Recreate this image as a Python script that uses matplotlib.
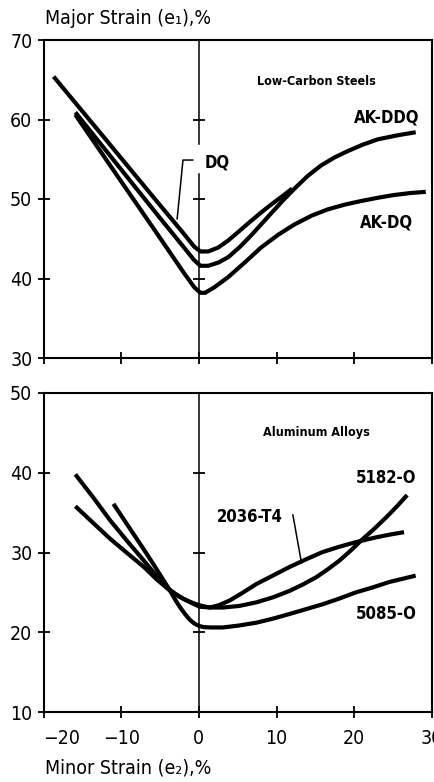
import numpy as np
import matplotlib.pyplot as plt

# low-carbon steels (top panel)
dq_x = [-18.7, -12.0, -6.0, -2.0, -0.6, 0.2, 1.2, 2.5, 3.8, 5.0, 6.3, 8.0, 9.3, 10.8, 12.0]
dq_y = [65.4, 57.5, 50.4, 45.7, 44.0, 43.4, 43.4, 43.9, 44.8, 45.8, 46.9, 48.3, 49.3, 50.4, 51.3]
ddq_x = [-15.9, -10.0, -5.0, -2.0, -0.6, 0.2, 1.2, 2.5, 3.8, 5.3, 6.8, 8.0, 9.3, 10.8, 12.3,
         14.0, 15.7, 17.4, 19.1, 21.0, 23.0, 25.5, 27.9]
ddq_y = [60.9, 53.7, 47.6, 44.0, 42.3, 41.6, 41.6, 42.0, 42.7, 44.0, 45.5, 46.8, 48.2, 49.8, 51.3,
         52.9, 54.2, 55.2, 56.0, 56.8, 57.5, 58.0, 58.4]
akdq_x = [-15.9, -10.0, -5.0, -2.0, -0.6, 0.2, 0.8, 2.0, 3.8, 6.0, 8.0, 10.2, 12.3, 14.5, 16.6,
          18.8, 20.9, 23.0, 25.1, 27.2, 29.2]
akdq_y = [60.6, 52.2, 45.1, 40.8, 38.9, 38.2, 38.2, 38.9, 40.2, 42.1, 43.9, 45.5, 46.8, 47.9, 48.7,
          49.3, 49.75, 50.15, 50.5, 50.75, 50.9]

# aluminum alloys (bottom panel)
a5182_x = [-15.9, -13.6, -11.4, -9.2, -7.1, -5.5, -4.1, -3.0, -2.0, -1.0, 0.1, 1.5, 3.1, 5.2, 7.4,
           9.6, 11.7, 13.4, 15.1, 16.6, 18.1, 19.6, 21.1, 22.6, 24.1, 25.5, 26.8]
a5182_y = [39.8, 36.9, 34.0, 31.4, 29.0, 27.1, 25.6, 24.8, 24.2, 23.7, 23.2, 23.1, 23.1, 23.3, 23.75,
           24.4, 25.2, 26.0, 26.9, 27.9, 29.0, 30.3, 31.7, 33.0, 34.4, 35.8, 37.2]
a2036_x = [-15.9, -13.6, -11.4, -9.2, -7.1, -5.4, -3.7, -2.6, -1.6, -0.6, 0.4, 1.4, 2.6, 4.0, 5.7,
           7.4, 9.5, 11.7, 13.8, 15.9, 18.0, 20.2, 22.8, 24.6, 26.4]
a2036_y = [35.8, 33.7, 31.7, 29.9, 28.2, 26.6, 25.2, 24.5, 24.0, 23.6, 23.3, 23.1, 23.4, 24.0, 25.0,
           26.05, 27.1, 28.2, 29.15, 30.05, 30.7, 31.3, 31.9, 32.25, 32.55]
a5085_x = [-11.0, -9.7, -8.4, -7.1, -5.9, -4.8, -3.7, -3.0, -2.4, -1.8, -1.2, -0.6, 0.0, 0.6, 1.5,
           3.1, 5.2, 7.4, 9.5, 11.7, 13.8, 15.9, 18.0, 20.2, 22.3, 24.5, 26.2, 27.9]
a5085_y = [36.1, 34.2, 32.3, 30.4, 28.6, 26.9, 25.2, 24.0, 23.1, 22.3, 21.6, 21.1, 20.8, 20.65, 20.6,
           20.6, 20.85, 21.2, 21.7, 22.3, 22.9, 23.5, 24.2, 25.0, 25.6, 26.3, 26.7, 27.1]

xticks = [-20, -10, 0, 10, 20, 30]
xticklabels = ['\u221220', '\u221210', '0', '10', '20', '30']
top_yticks = [30, 40, 50, 60, 70]
bot_yticks = [10, 20, 30, 40, 50]

plt.rcParams['font.family'] = ['DejaVu Sans']
plt.rcParams['font.stretch'] = 'condensed'

fig = plt.figure(figsize=(4.35, 7.82), dpi=100)
ax1 = fig.add_axes([43.5 / 435, 1 - 358 / 782, 388.5 / 435, 318 / 782])
ax2 = fig.add_axes([43.5 / 435, 1 - 712 / 782, 388.5 / 435, 319 / 782])

lw = 3.0
for ax in (ax1, ax2):
    ax.set_xlim(-20, 30)
    ax.set_xticks(xticks)
    for s in ax.spines.values():
        s.set_linewidth(1.5)
    ax.tick_params(direction='inout', length=8, width=1.3, labelsize=14, pad=4)

ax1.set_ylim(30, 70)
ax1.set_yticks(top_yticks)
ax1.tick_params(axis='x', labelbottom=False)
ax2.set_ylim(10, 50)
ax2.set_yticks(bot_yticks)
ax2.set_xticklabels(xticklabels)
ax2.tick_params(axis='x', pad=8)
ax2.get_xticklabels()[0].set_horizontalalignment('left')

# vertical reference line at zero minor strain
ax1.plot([0, 0], [30, 53.1], color='black', lw=1.1)
ax1.plot([0, 0], [56.9, 70], color='black', lw=1.1)
ax2.axvline(0, color='black', lw=1.1)
ax1.plot([0, 0, 0], [40, 50, 60], ls='none', marker='_', ms=9, mew=1.3, color='black')
ax2.plot([0, 0, 0], [20, 30, 40], ls='none', marker='_', ms=9, mew=1.3, color='black')

for x, y in [(dq_x, dq_y), (ddq_x, ddq_y), (akdq_x, akdq_y)]:
    ax1.plot(x, y, color='black', lw=lw, solid_joinstyle='round', solid_capstyle='butt')
for x, y in [(a5182_x, a5182_y), (a2036_x, a2036_y), (a5085_x, a5085_y)]:
    ax2.plot(x, y, color='black', lw=lw, solid_joinstyle='round', solid_capstyle='butt')

# labels
ax1.text(15.1, 64.75, 'Low-Carbon Steels', ha='center', va='center', fontsize=9, fontweight='bold')
ax1.text(24.2, 60.25, 'AK-DDQ', ha='center', va='center', fontsize=12, fontweight='bold')
ax1.text(24.2, 47.0, 'AK-DQ', ha='center', va='center', fontsize=12, fontweight='bold')
ax1.text(2.3, 54.6, 'DQ', ha='center', va='center', fontsize=12, fontweight='bold')
ax1.plot([-0.8, -2.05, -2.8], [54.9, 54.9, 47.5], color='black', lw=1.1)

ax2.text(15.1, 45.1, 'Aluminum Alloys', ha='center', va='center', fontsize=9, fontweight='bold')
ax2.text(24.1, 39.3, '5182-O', ha='center', va='center', fontsize=12, fontweight='bold')
ax2.text(6.5, 34.5, '2036-T4', ha='center', va='center', fontsize=12, fontweight='bold')
ax2.text(24.1, 22.3, '5085-O', ha='center', va='center', fontsize=12, fontweight='bold')
ax2.plot([12.1, 13.2], [34.7, 28.7], color='black', lw=1.1)

fig.text(45 / 435, 1 - 18 / 782, 'Major Strain (e\u2081),%', ha='left', va='center', fontsize=14)
fig.text(45 / 435, 1 - 768 / 782, 'Minor Strain (e\u2082),%', ha='left', va='center', fontsize=14)

fig.savefig('out.png', dpi=100)
